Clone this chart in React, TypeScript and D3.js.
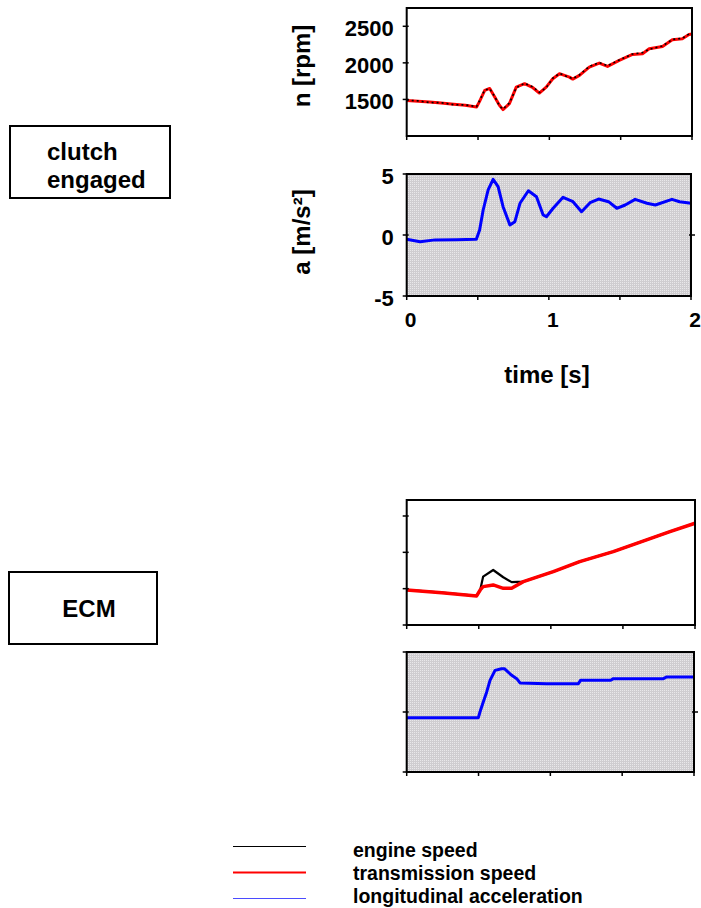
import React from 'react';
import * as d3 from 'd3';

/* ── Data ────────────────────────────────────────────────────── */
// top panel: clutch engaged, speeds
const clutchTime = [0, 0.08, 0.16, 0.24, 0.33, 0.41, 0.49, 0.51, 0.547, 0.582, 0.617, 0.65, 0.675, 0.72, 0.768, 0.826, 0.885, 0.93, 0.978, 1.024, 1.071, 1.141, 1.164, 1.211, 1.28, 1.35, 1.408, 1.49, 1.583, 1.653, 1.7, 1.793, 1.862, 1.932, 1.979, 2.0];
const clutchTrans = [1486, 1475, 1464, 1450, 1433, 1420, 1396, 1470, 1624, 1650, 1532, 1420, 1360, 1442, 1669, 1715, 1660, 1587, 1669, 1783, 1852, 1805, 1778, 1829, 1942, 1997, 1951, 2033, 2115, 2124, 2193, 2224, 2316, 2329, 2388, 2395];
const clutchEngine = [1490, 1480, 1458, 1455, 1428, 1425, 1402, 1480, 1630, 1645, 1540, 1410, 1370, 1450, 1660, 1720, 1670, 1595, 1660, 1790, 1855, 1800, 1785, 1835, 1950, 2005, 1960, 2040, 2120, 2140, 2185, 2230, 2320, 2335, 2395, 2400];

// clutch engaged, acceleration
const clutchAccTime = [0, 0.094, 0.2, 0.35, 0.49, 0.513, 0.538, 0.573, 0.608, 0.643, 0.678, 0.726, 0.761, 0.797, 0.856, 0.913, 0.96, 0.983, 1.03, 1.1, 1.17, 1.23, 1.29, 1.35, 1.42, 1.478, 1.537, 1.607, 1.69, 1.749, 1.866, 1.92, 2.0];
const clutchAcc = [-0.35, -0.55, -0.4, -0.38, -0.35, 0.41, 2.05, 3.69, 4.56, 3.96, 2.32, 0.82, 1.09, 2.6, 3.63, 3.14, 1.64, 1.5, 2.19, 3.09, 2.73, 1.91, 2.65, 2.95, 2.73, 2.19, 2.46, 2.92, 2.6, 2.46, 2.92, 2.73, 2.6];

// ECM panel, speeds
const ecmTime = [0, 0.243, 0.485, 0.51, 0.53, 0.6, 0.67, 0.728, 0.809, 1.017, 1.2, 1.433, 1.664, 1.826, 2.0];
const ecmTrans = [1482, 1445, 1400, 1482, 1528, 1551, 1505, 1505, 1597, 1734, 1872, 2010, 2171, 2285, 2400];
const ecmEngine = [1482, 1445, 1400, 1482, 1665, 1757, 1657, 1590, 1597, 1734, 1872, 2010, 2171, 2285, 2400];

// ECM panel, acceleration
const ecmAccTime = [0, 0.25, 0.499, 0.51, 0.533, 0.557, 0.58, 0.615, 0.66, 0.68, 0.731, 0.766, 0.789, 0.974, 1.195, 1.21, 1.42, 1.439, 1.787, 1.81, 1.995];
const ecmAcc = [-0.47, -0.47, -0.47, 0, 0.83, 1.67, 2.64, 3.47, 3.61, 3.61, 3.06, 2.78, 2.42, 2.36, 2.36, 2.64, 2.64, 2.78, 2.78, 2.92, 2.92];

const timeTicks = [0, 0.5, 1, 1.5, 2];
const timeLabels = [0, 1, 2];
const rpmTicks = [1500, 2000, 2500];
const accTicks = [-5, 0, 5];

const legendItems = [
  { label: 'engine speed', color: '#000000', w: 1 },
  { label: 'transmission speed', color: '#ff0000', w: 2 },
  { label: 'longitudinal acceleration', color: '#4b4bff', w: 1 },
];

const FONT = '"Liberation Sans", Arial, sans-serif';

type Series = { t: number[]; v: number[]; color: string; width: number; dash?: string };

const Panel: React.FC<{
  x0: number; x1: number; y0: number; y1: number;
  yDomain: [number, number];
  yTicks: number[];
  showYLabels?: boolean;
  showXLabels?: boolean;
  rightTick?: number;
  gray?: boolean;
  series: Series[];
}> = ({ x0, x1, y0, y1, yDomain, yTicks, showYLabels, showXLabels, rightTick, gray, series }) => {
  const x = d3.scaleLinear().domain([0, 2]).range([x0, x1]);
  const y = d3.scaleLinear().domain(yDomain).range([y1, y0]);
  const line = d3.line<[number, number]>().x(d => x(d[0])).y(d => y(d[1]));
  return (
    <g>
      <rect x={x0} y={y0} width={x1 - x0} height={y1 - y0} fill={gray ? 'url(#dots)' : '#fff'} />
      {series.map((s, i) => (
        <path
          key={i}
          d={line(s.t.map((t, j) => [t, s.v[j]] as [number, number])) || ''}
          fill="none"
          stroke={s.color}
          strokeWidth={s.width}
          strokeDasharray={s.dash}
          strokeLinejoin="round"
        />
      ))}
      <rect x={x0} y={y0} width={x1 - x0} height={y1 - y0} fill="none" stroke="#000" strokeWidth={2} />
      {yTicks.map(v => (
        <line key={'yt' + v} x1={x0 - 4} x2={x0 + 2} y1={y(v)} y2={y(v)} stroke="#000" strokeWidth={1.5} />
      ))}
      {rightTick !== undefined && (
        <line x1={x1 - 2} x2={x1 + 4} y1={y(rightTick)} y2={y(rightTick)} stroke="#000" strokeWidth={1.5} />
      )}
      {timeTicks.map(t => (
        <line key={'xt' + t} x1={x(t)} x2={x(t)} y1={y1 - 1} y2={y1 + 4} stroke="#000" strokeWidth={1.5} />
      ))}
      {showYLabels && yTicks.map(v => (
        <text key={'yl' + v} x={x0 - 13} y={y(v) + 10} textAnchor="end" fontFamily={FONT} fontWeight="bold" fontSize={22}>
          {v}
        </text>
      ))}
      {showXLabels && timeLabels.map(t => (
        <text key={'xl' + t} x={x(t) + 4} y={y1 + 31} textAnchor="middle" fontFamily={FONT} fontWeight="bold" fontSize={21}>
          {t}
        </text>
      ))}
    </g>
  );
};

export default function App() {
  return (
    <svg width={701} height={908} style={{ position: 'absolute', left: 0, top: 0, overflow: 'hidden' }}>
      <defs>
        <pattern id="dots" width={2} height={2} patternUnits="userSpaceOnUse">
          <rect width={2} height={2} fill="#cfcdd0" />
          <rect width={1} height={1} fill="#e9e8ea" />
        </pattern>
      </defs>
      <rect width={701} height={908} fill="#fff" />

      {/* left boxes */}
      <rect x={10} y={126} width={160} height={72} fill="none" stroke="#000" strokeWidth={2} />
      <text x={47} y={160} fontFamily={FONT} fontWeight="bold" fontSize={24}>clutch</text>
      <text x={47} y={188} fontFamily={FONT} fontWeight="bold" fontSize={24}>engaged</text>
      <rect x={9} y={572} width={148} height={72} fill="none" stroke="#000" strokeWidth={2} />
      <text x={89} y={617} textAnchor="middle" fontFamily={FONT} fontWeight="bold" fontSize={24}>ECM</text>

      {/* clutch engaged */}
      <Panel x0={406.7} x1={692} y0={8} y1={136} yDomain={[1000, 2750]} yTicks={rpmTicks} showYLabels
        series={[
          { t: clutchTime, v: clutchTrans, color: '#ff0000', width: 3 },
          { t: clutchTime, v: clutchEngine, color: '#000', width: 1.6, dash: '2,3' },
        ]} />
      <Panel x0={406.7} x1={691} y0={174} y1={296} yDomain={[-5, 5]} yTicks={accTicks} showYLabels showXLabels rightTick={0} gray
        series={[{ t: clutchAccTime, v: clutchAcc, color: '#0000ff', width: 3 }]} />
      <text transform="translate(310,66) rotate(-90)" textAnchor="middle" fontFamily={FONT} fontWeight="bold" fontSize={24}>n [rpm]</text>
      <text transform="translate(310,232) rotate(-90)" textAnchor="middle" fontFamily={FONT} fontWeight="bold" fontSize={24}>a [m/s²]</text>
      <text x={547} y={383} textAnchor="middle" fontFamily={FONT} fontWeight="bold" fontSize={24}>time [s]</text>

      {/* ECM */}
      <Panel x0={406.7} x1={695} y0={500} y1={625} yDomain={[1000, 2720]} yTicks={rpmTicks.concat([1000])}
        series={[
          { t: ecmTime, v: ecmEngine, color: '#000', width: 2.2 },
          { t: ecmTime, v: ecmTrans, color: '#ff0000', width: 3.5 },
        ]} />
      <Panel x0={406.7} x1={694} y0={652} y1={772} yDomain={[-5, 5]} yTicks={accTicks} rightTick={0} gray
        series={[{ t: ecmAccTime, v: ecmAcc, color: '#0000ff', width: 3 }]} />

      {/* legend */}
      {legendItems.map((d, i) => (
        <g key={d.label}>
          <line x1={233} x2={306} y1={846.5 + i * 26} y2={846.5 + i * 26} stroke={d.color} strokeWidth={d.w} />
          <text x={353} y={857 + i * 23} fontFamily={FONT} fontWeight="bold" fontSize={19.5}>{d.label}</text>
        </g>
      ))}
    </svg>
  );
}
